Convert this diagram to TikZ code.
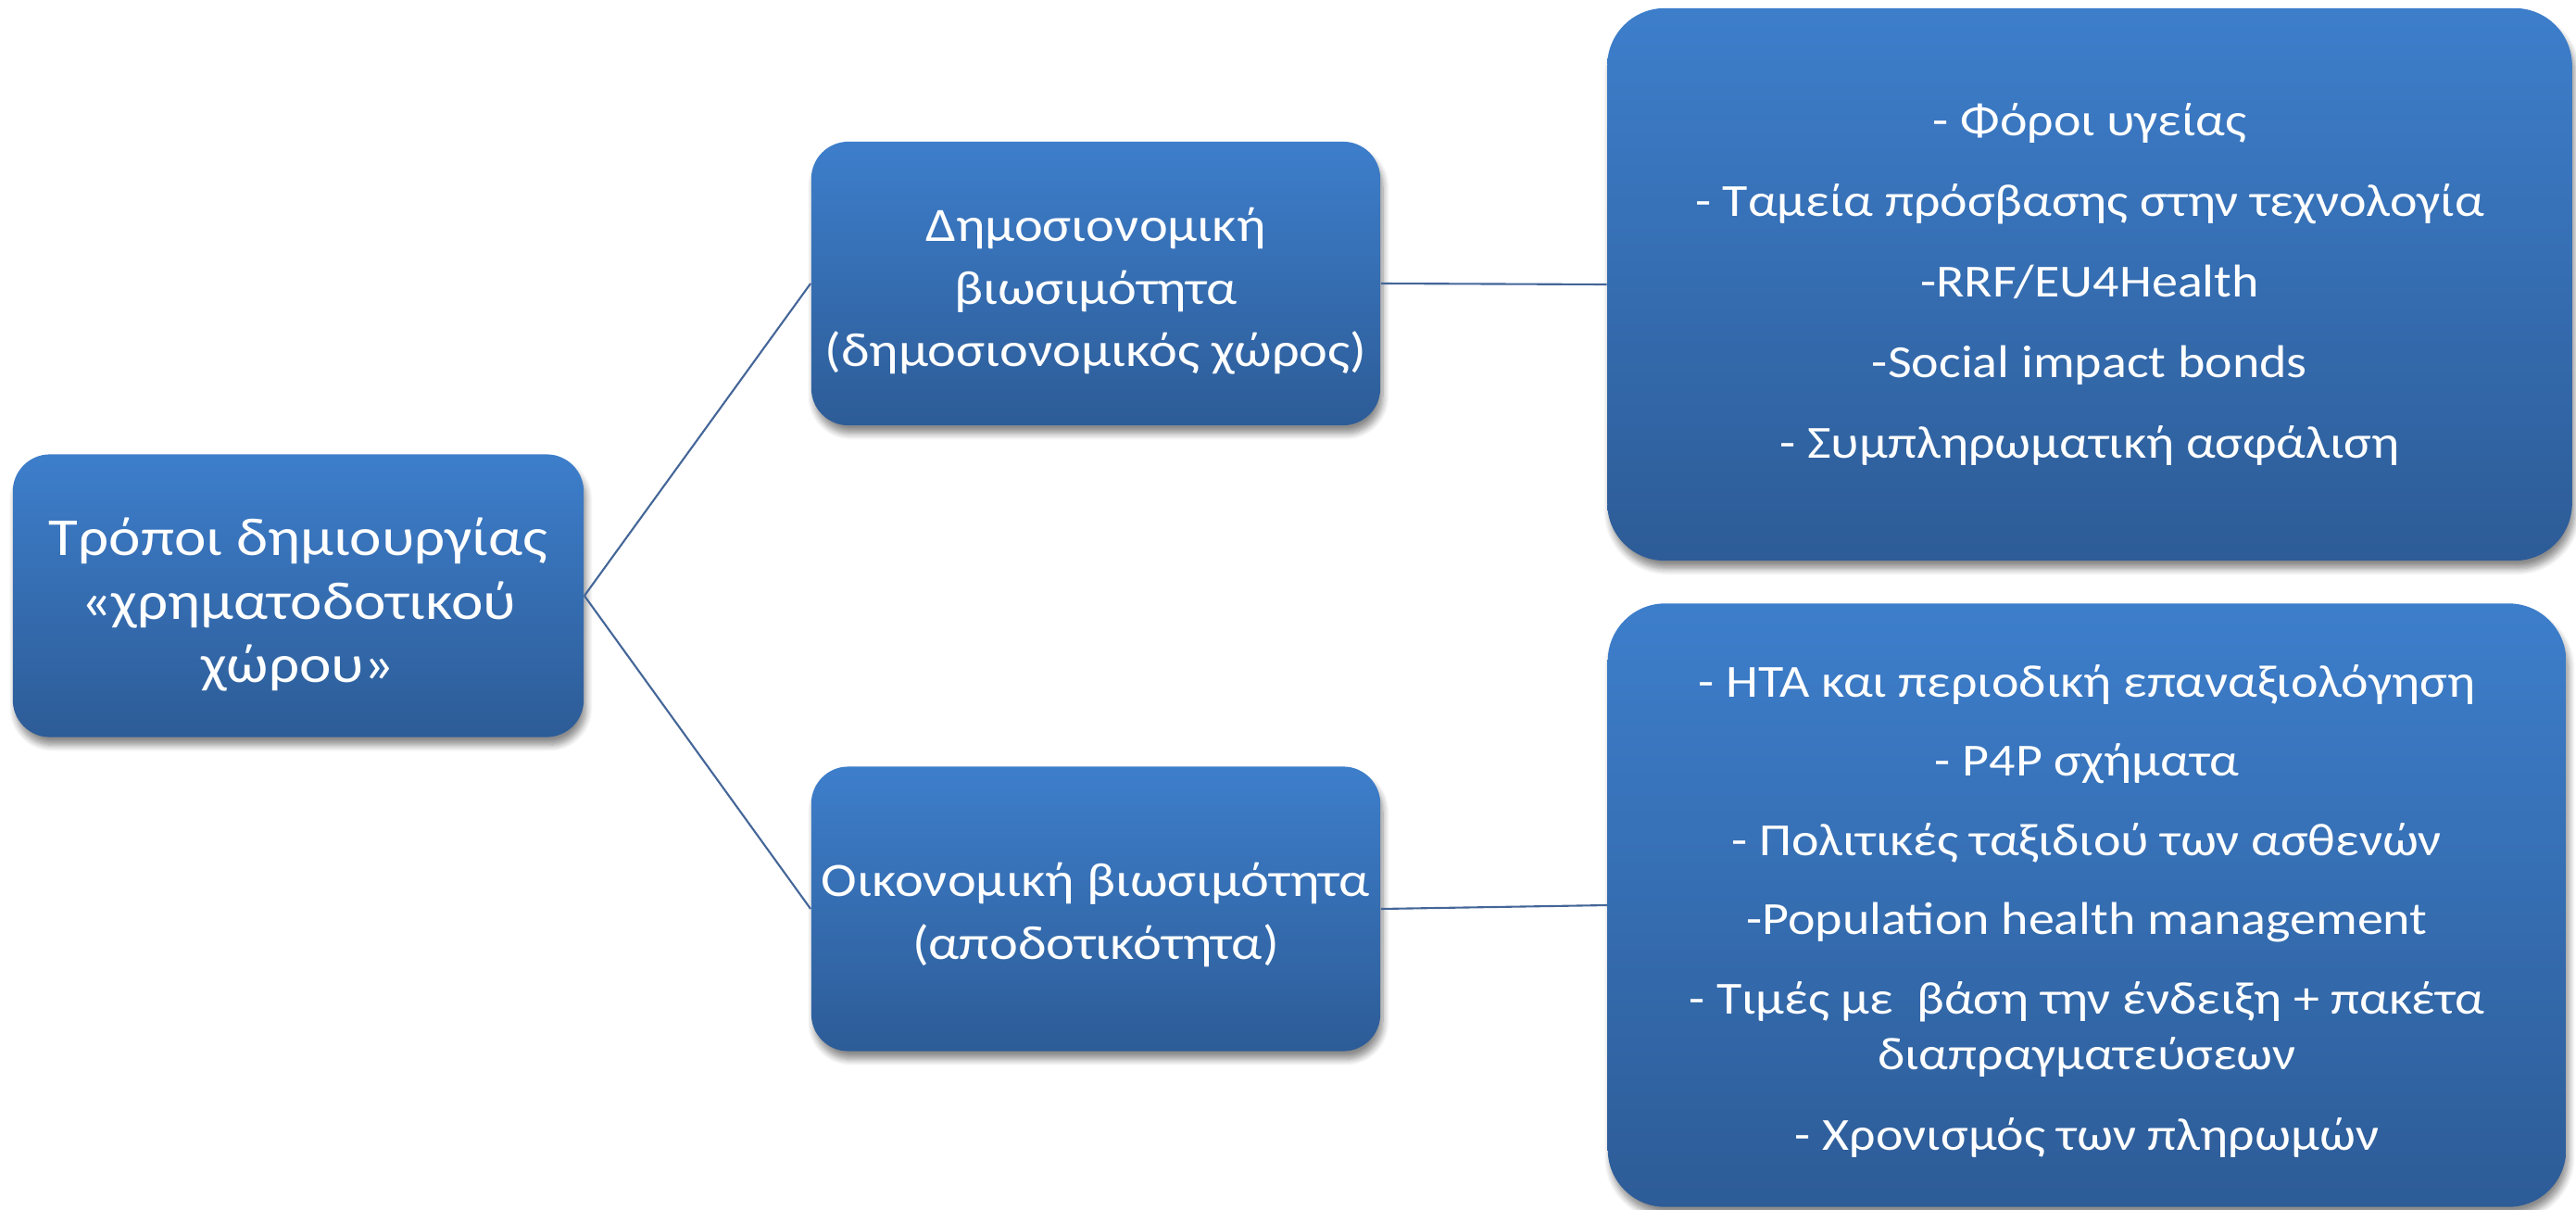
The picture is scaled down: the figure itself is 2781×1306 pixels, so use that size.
\documentclass[tikz,border=0pt]{standalone}
\usepackage{fontspec}
\setmainfont[FakeStretch=1.13]{Carlito}
\usetikzlibrary{shadows.blur}

\definecolor{boxtop}{RGB}{61,126,203}
\definecolor{boxbot}{RGB}{45,92,151}
\definecolor{linkcol}{RGB}{68,102,152}

% invisible strut that lowers a centred text block a little
\newcommand{\toppad}[1]{\rule{0pt}{#1}}

\tikzset{
  panel/.style={rounded corners=0.4cm, top color=boxtop, bottom color=boxbot,
    draw=none, text=white, align=center, inner sep=0pt,
    blur shadow={shadow xshift=0.8pt, shadow yshift=-2.5pt, shadow blur steps=8, shadow opacity=45}},
  bigpanel/.style={panel, rounded corners=0.62cm},
  roottext/.style={font=\fontsize{16.4pt}{19.6pt}\selectfont},
  maintext/.style={font=\fontsize{14.7pt}{19.1pt}\selectfont},
  listtext/.style={font=\fontsize{14.1pt}{17.1pt}\selectfont},
  link/.style={draw=linkcol, line width=0.6pt},
}

\begin{document}
\begin{tikzpicture}[x=0.01cm, y=-0.01cm]
\useasboundingbox (0,0) rectangle (2781,1306);

% root box
\node[panel, roottext, minimum width=6.16cm, minimum height=3.05cm] (root) at (322,643)
  {\toppad{17pt}Τρόποι δημιουργίας\\«χρηματοδοτικού\\χώρου»};

% second level
\node[panel, maintext, minimum width=6.14cm, minimum height=3.06cm] (fiscal) at (1183,306)
  {\toppad{15pt}Δημοσιονομική\\βιωσιμότητα\\(δημοσιονομικός χώρος)};
\node[panel, maintext, minimum width=6.14cm, minimum height=3.07cm] (econ) at (1183,981)
  {\toppad{14pt}Οικονομική βιωσιμότητα\\(αποδοτικότητα)};

% detail lists
\node[bigpanel, listtext, minimum width=10.41cm, minimum height=5.96cm] (fiscallist) at (2256,307)
  {- Φόροι υγείας\\[7.6pt]
   - Ταμεία πρόσβασης στην τεχνολογία\\[7.6pt]
   -RRF/EU4Health\\[7.6pt]
   -Social impact bonds\\[7.6pt]
   - Συμπληρωματική ασφάλιση};
\node[bigpanel, listtext, minimum width=10.34cm, minimum height=6.51cm] (econlist) at (2253,977)
  {\toppad{13.5pt}- HTA και περιοδική επαναξιολόγηση\\[7.2pt]
   - P4P σχήματα\\[7.2pt]
   - Πολιτικές ταξιδιού των ασθενών\\[7.2pt]
   -Population health management\\[7.2pt]
   - Τιμές με~ βάση την ένδειξη + πακέτα\\
   διαπραγματεύσεων\\[7.6pt]
   - Χρονισμός των πληρωμών};

% connectors
\draw[link] (root.east) -- (fiscal.west);
\draw[link] (root.east) -- (econ.west);
\draw[link] (fiscal.east) -- (fiscallist.west);
\draw[link] (econ.east) -- (econlist.west);
\end{tikzpicture}
\end{document}
